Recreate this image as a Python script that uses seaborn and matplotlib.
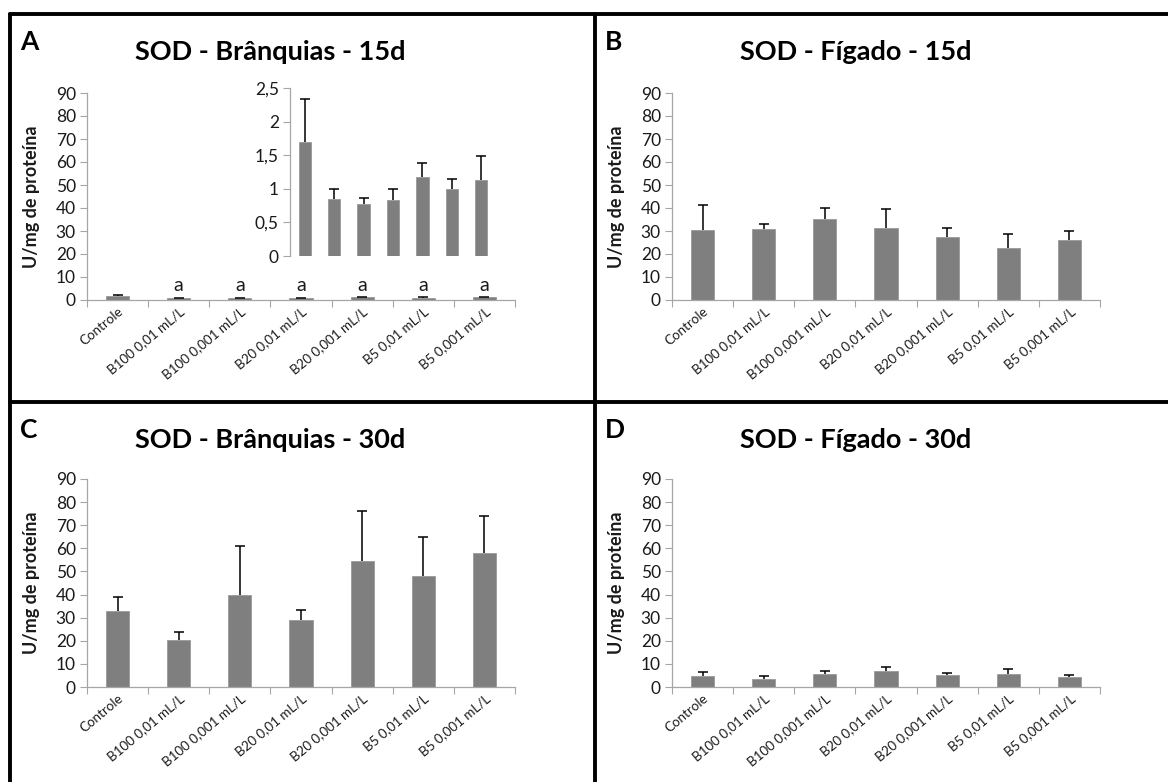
import numpy as np
import matplotlib
matplotlib.use("Agg")
import matplotlib.pyplot as plt
import matplotlib.transforms as mtrans
from matplotlib.lines import Line2D
import seaborn as sns

sns.set_style("white")
plt.rcParams['font.family'] = ['Lato', 'DejaVu Sans']

# categories (x tick labels)
groups = ["Controle", "B100 0,01 mL/L", "B100 0,001 mL/L", "B20 0,01 mL/L",
          "B20 0,001 mL/L", "B5 0,01 mL/L", "B5 0,001 mL/L"]

# SOD - Branquias - 15d (mean, upper sd)
gill15 = [1.69, 0.85, 0.77, 0.84, 1.17, 1.00, 1.13]
gill15_sd = [0.65, 0.14, 0.09, 0.16, 0.22, 0.15, 0.36]
gill15_sig = ["", "a", "a", "a", "a", "a", "a"]

# SOD - Figado - 15d
liver15 = [30.4, 30.7, 35.0, 31.1, 27.2, 22.4, 26.0]
liver15_sd = [10.8, 2.3, 5.1, 8.3, 4.1, 6.3, 3.8]

# SOD - Branquias - 30d
gill30 = [32.9, 20.5, 39.9, 29.2, 54.6, 48.2, 58.0]
gill30_sd = [6.2, 3.2, 21.0, 4.2, 21.7, 16.8, 16.2]

# SOD - Figado - 30d
liver30 = [4.6, 3.6, 5.8, 7.1, 5.1, 5.5, 4.5]
liver30_sd = [1.9, 1.0, 1.1, 1.4, 1.1, 2.3, 0.9]

inset_ticks = [0, 0.5, 1, 1.5, 2, 2.5]
inset_labels = ["0", "0,5", "1", "1,5", "2", "2,5"]

W, H = 1168, 782
fig = plt.figure(figsize=(W / 100, H / 100), dpi=100)

BAR = "#7f7f7f"
SPINE = "#a6a6a6"
TXT = "#1a1a1a"


def px_axes(l, t, r, b):
    return fig.add_axes([l / W, 1 - b / H, (r - l) / W, (b - t) / H])


def bars(ax, vals, sd, width):
    sns.barplot(x=list(range(len(vals))), y=vals, color=BAR, width=width,
                saturation=1, ax=ax, edgecolor="#9a9a9a", linewidth=0.6)
    x = np.arange(len(vals))
    top = np.array(vals) + np.array(sd)
    ax.vlines(x, vals, top, color="black", lw=1.1, zorder=5)
    ax.scatter(x, top, marker="_", s=45, color="black", linewidths=1.1, zorder=5)
    ax.set_xlim(-0.5, len(vals) - 0.5)


def panel(l, t, r, b, vals, sd):
    ax = px_axes(l, t, r, b)
    bars(ax, vals, sd, 0.38)
    ax.set_ylim(0, 90)
    ax.set_yticks(range(0, 91, 10))
    ax.tick_params(axis="y", direction="out", length=5, width=0.8,
                   color=SPINE, labelsize=12.5, labelcolor=TXT, pad=3, left=True)
    ax.set_xticks(np.arange(-0.5, 7, 1), minor=True)
    ax.set_xticks(range(7))
    ax.set_xticklabels(groups, rotation=40, ha="right", va="top",
                       rotation_mode="anchor", fontsize=9.6, color=TXT)
    off = mtrans.ScaledTranslation(5 / 100, -10 / 100, fig.dpi_scale_trans)
    for lab in ax.get_xticklabels():
        lab.set_transform(lab.get_transform() + off)
    ax.tick_params(axis="x", which="major", length=0)
    ax.tick_params(axis="x", which="minor", direction="out", length=5,
                   width=0.8, color=SPINE, bottom=True)
    for s in ["top", "right"]:
        ax.spines[s].set_visible(False)
    for s in ["left", "bottom"]:
        ax.spines[s].set_color(SPINE)
        ax.spines[s].set_linewidth(0.9)
    ax.set_xlabel("")
    ax.set_ylabel("U/mg de proteína", fontsize=13, fontweight="bold", color=TXT)
    ax.yaxis.set_label_coords(-47 / (r - l), 0.5)
    return ax


axA = panel(87, 93, 515, 300, gill15, gill15_sd)
for i, s in enumerate(gill15_sig):
    if s:
        axA.text(i, 2.6, s, ha="center", va="bottom", fontsize=14, color=TXT)
axB = panel(672, 93, 1100, 300, liver15, liver15_sd)
axC = panel(87, 479, 515, 687, gill30, gill30_sd)
axD = panel(672, 479, 1100, 687, liver30, liver30_sd)

# inset of panel A
ins = px_axes(290, 88, 496, 256)
bars(ins, gill15, gill15_sd, 0.42)
ins.set_ylim(0, 2.5)
ins.set_yticks(inset_ticks)
ins.set_yticklabels(inset_labels)
ins.set_xticks([])
ins.tick_params(axis="y", direction="out", length=5, width=0.8, color=SPINE,
                labelsize=12.5, labelcolor=TXT, pad=3, left=True)
for s in ["top", "right", "bottom"]:
    ins.spines[s].set_visible(False)
ins.spines["left"].set_color(SPINE)
ins.spines["left"].set_linewidth(0.9)
ins.set_xlabel("")
ins.set_ylabel("")
ins.patch.set_alpha(0)

# titles and panel letters
titles = [("A", "SOD - Brânquias - 15d", 10, 60, 270),
          ("B", "SOD - Fígado - 15d", 595, 60, 856),
          ("C", "SOD - Brânquias - 30d", 10, 448, 270),
          ("D", "SOD - Fígado - 30d", 595, 448, 856)]
for letter, title, lx, by, tx in titles:
    fig.text(tx / W, 1 - by / H, title, ha="center", va="baseline",
             fontsize=19.5, fontweight="bold", color="black")
    fig.text((lx + 10) / W, 1 - (by - 10) / H, letter, ha="left", va="baseline",
             fontsize=19, fontweight="bold", color="black")

# frame lines
lw = 2.8
for xs, ys in [([10, 10], [14, H]), ([595, 595], [14, H]),
               ([10, W], [14, 14]), ([10, W], [402, 402])]:
    fig.add_artist(Line2D([x / W for x in xs], [1 - y / H for y in ys],
                          color="black", lw=lw, transform=fig.transFigure))

fig.savefig("out.png", dpi=100)
